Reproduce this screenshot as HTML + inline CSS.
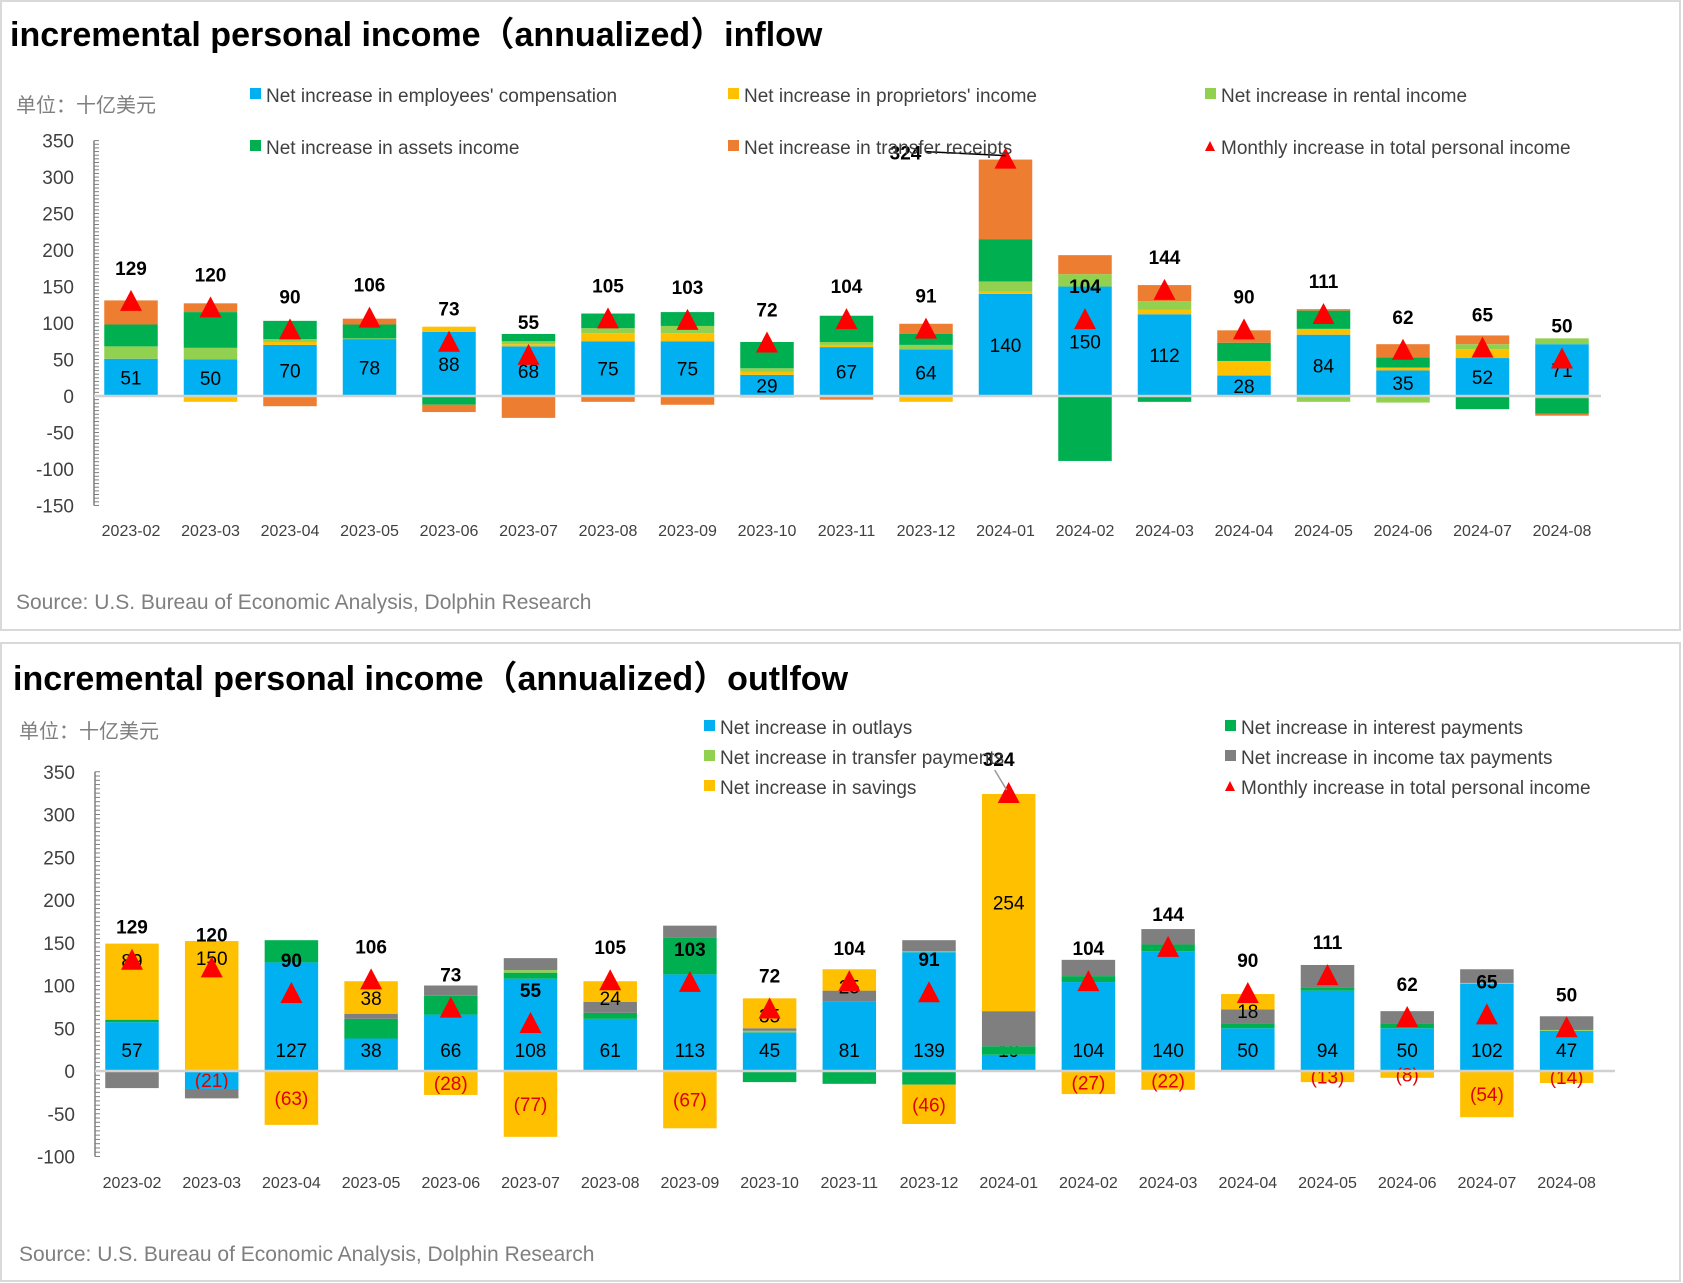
<!DOCTYPE html>
<html><head><meta charset="utf-8"><style>
html,body{margin:0;padding:0;background:#fff;}
svg{display:block;font-family:"Liberation Sans","Noto Sans CJK SC",sans-serif;}
</style></head><body>
<svg id="chart" width="1683" height="1283" viewBox="0 0 1683 1283" xmlns="http://www.w3.org/2000/svg">
<rect x="1" y="1" width="1679" height="629" fill="#fff" stroke="#d9d9d9" stroke-width="2"/>
<rect x="1" y="643" width="1679" height="638" fill="#fff" stroke="#d9d9d9" stroke-width="2"/>
<text x="10" y="46" font-size="34" font-weight="bold" fill="#000">incremental personal income（annualized）inflow</text>
<text x="16" y="112" font-size="20" fill="#7f7f7f">单位：十亿美元</text>
<text x="16" y="609" font-size="21" fill="#7f7f7f">Source: U.S. Bureau of Economic Analysis, Dolphin Research</text>
<text x="13" y="690" font-size="34" font-weight="bold" fill="#000">incremental personal income（annualized）outlfow</text>
<text x="19" y="738" font-size="20" fill="#7f7f7f">单位：十亿美元</text>
<text x="19" y="1261" font-size="21" fill="#7f7f7f">Source: U.S. Bureau of Economic Analysis, Dolphin Research</text>
<g id="top"></g><g id="bot"></g>
</svg>
<script>
const categories=["2023-02","2023-03","2023-04","2023-05","2023-06","2023-07","2023-08","2023-09","2023-10","2023-11","2023-12","2024-01","2024-02","2024-03","2024-04","2024-05","2024-06","2024-07","2024-08"];
// inflow series
const employees=[51,50,70,78,88,68,75,75,29,67,64,140,150,112,28,84,35,52,71];
const proprietors=[0,-8,4,0,7,3,11,11,4,3,-8,3,0,6,20,8,4,12,-3];
const rental=[17,16,4,1,0,4,7,10,5,4,6,14,17,12,0,-8,-9,7,8];
const assets=[30,49,25,19,-12,10,20,19,36,36,15,58,-89,-8,25,25,14,-18,-21];
const transfers=[33,12,-14,8,-10,-30,-8,-12,-2,-5,14,109,26,22,17,2,18,12,-3];
const totalIncome=[129,120,90,106,73,55,105,103,72,104,91,324,104,144,90,111,62,65,50];
// outflow series
const outlays=[57,-21,127,38,66,108,61,113,45,81,139,19,104,140,50,94,50,102,47];
const interest=[3,0,26,23,22,7,7,43,-13,-15,-16,10,7,8,5,4,5,0,0];
const transferPay=[0,2,0,0,0,3,0,0,2,0,1,0,0,0,0,0,0,1,1];
const incomeTax=[-20,-11,0,6,12,14,13,14,3,13,13,41,19,18,17,26,15,16,16];
const savings=[89,150,-63,38,-28,-77,24,-67,35,25,-46,254,-27,-22,18,-13,-8,-54,-14];
const topTicks=[-150,-100,-50,0,50,100,150,200,250,300,350];
const botTicks=[-100,-50,0,50,100,150,200,250,300,350];

const NS="http://www.w3.org/2000/svg";
function mk(parent,tag,attrs,txt){const e=document.createElementNS(NS,tag);for(const k in attrs)e.setAttribute(k,attrs[k]);if(txt!==undefined)e.textContent=txt;parent.appendChild(e);return e;}

function drawChart(gid,cfg){
  const g=document.getElementById(gid);
  const Y=v=>cfg.y0-v*cfg.ppu;
  const X=i=>cfg.x0+i*cfg.step;
  const ax=mk(g,'line',{x1:cfg.ax,x2:cfg.ax,y1:Y(cfg.ticks[cfg.ticks.length-1]),y2:Y(cfg.ticks[0]),stroke:'#7f7f7f','stroke-width':1.5});
  
  for(let v=cfg.ticks[0];v<=cfg.ticks[cfg.ticks.length-1];v+=5){
    const t=mk(g,'line',{x1:cfg.ax,x2:cfg.ax+5,y1:Y(v),y2:Y(v),stroke:'#7f7f7f','stroke-width':1});
    
  }
  cfg.ticks.forEach(v=>{
    const t=mk(g,'text',{x:cfg.ax-20,y:Y(v)+7,'font-size':19,'text-anchor':'end',fill:'#404040'},String(v));
    
  });
  categories.forEach((c,i)=>{
    let pos=0,neg=0;
    cfg.series.forEach(s=>{
      const v=s.data[i]; if(!v) return;
      let y1,y2;
      if(v>0){y1=Y(pos+v);y2=Y(pos);pos+=v;}else{y1=Y(neg);y2=Y(neg+v);neg+=v;}
      const r=mk(g,'rect',{x:X(i)-cfg.bw/2,y:y1,width:cfg.bw,height:Math.max(0,y2-y1),fill:s.color});
      
      if(s.label){
        const lt=v<0?'('+Math.abs(v)+')':String(v);
        const col=(v<0&&s.redNeg)?'#e00000':'#000';
        let ly=(y1+y2)/2+7;
        if(s.bottomLabel&&v>0) ly=Y(0)-14;
        if(s.topLabel&&v>0&&v<200) ly=y1+24;
        const t=mk(g,'text',{x:X(i),y:ly,'font-size':19,'text-anchor':'middle',fill:col},lt);
        
      }
    });
    const xl=mk(g,'text',{x:X(i),y:cfg.xly,'font-size':16,'text-anchor':'middle',fill:'#404040'},c);
    
  });
  const zl=mk(g,'line',{x1:cfg.ax,x2:cfg.zx2,y1:Y(0),y2:Y(0),stroke:'#d0d0d0','stroke-width':2.5});
  
  totalIncome.forEach((v,i)=>{
    const cx=X(i),cy=Y(v);
    const m=mk(g,'polygon',{points:`${cx},${cy-12} ${cx-11},${cy+9} ${cx+11},${cy+9}`,fill:'#ff0000'});
    
    let lx=cx,ly=cy-27;
    if(v>300){
      if(cfg.bigLeft){lx=cx-100;ly=cy;mk(g,'line',{x1:lx+20,y1:ly-8,x2:cx,y2:cy-4,stroke:'#000','stroke-width':1.5});}
      else{lx=cx-10;ly=cy-28;mk(g,'line',{x1:cx-14,y1:cy-24,x2:cx-2,y2:cy-4,stroke:'#999','stroke-width':1.5});}
    }
    const t=mk(g,'text',{x:lx,y:ly,'font-size':19,'font-weight':'bold','text-anchor':'middle',fill:'#000'},String(v));
    
  });
  cfg.legend.forEach(L=>{
    if(L.tri) mk(g,'polygon',{points:`${L.x+5},${L.y-13} ${L.x},${L.y-3} ${L.x+10},${L.y-3}`,fill:'#ff0000'});
    else mk(g,'rect',{x:L.x,y:L.y-14,width:11,height:11,fill:L.color});
    const t=mk(g,'text',{x:L.x+16,y:L.y,'font-size':19,fill:'#404040'},L.text);
    
  });
}
drawChart('top',{y0:396,ppu:0.7297,x0:131,step:79.5,bw:53.5,ax:94,zx2:1601,xly:536,ticks:topTicks,bigLeft:true,
  series:[{name:'employees',data:employees,color:'#00b0f0',label:true},{name:'proprietors',data:proprietors,color:'#ffc000'},{name:'rental',data:rental,color:'#92d050'},{name:'assets',data:assets,color:'#00b050'},{name:'transfer-receipts',data:transfers,color:'#ed7d31'}],
  legend:[{x:250,y:102,color:'#00b0f0',text:"Net increase in employees' compensation"},{x:728,y:102,color:'#ffc000',text:"Net increase in proprietors' income"},{x:1205,y:102,color:'#92d050',text:"Net increase in rental income"},{x:250,y:154,color:'#00b050',text:"Net increase in assets income"},{x:728,y:154,color:'#ed7d31',text:"Net increase in transfer receipts"},{x:1205,y:154,tri:true,text:"Monthly increase in total personal income"}]});
drawChart('bot',{y0:1071,ppu:0.855,x0:132,step:79.7,bw:53.5,ax:95,zx2:1615,xly:1188,ticks:botTicks,bigLeft:false,
  series:[{name:'outlays',data:outlays,color:'#00b0f0',label:true,redNeg:true,bottomLabel:true},{name:'interest',data:interest,color:'#00b050'},{name:'transfer-payments',data:transferPay,color:'#92d050'},{name:'income-tax',data:incomeTax,color:'#7f7f7f'},{name:'savings',data:savings,color:'#ffc000',label:true,redNeg:true,topLabel:true}],
  legend:[{x:704,y:734,color:'#00b0f0',text:"Net increase in outlays"},{x:704,y:764,color:'#92d050',text:"Net increase in transfer payments"},{x:704,y:794,color:'#ffc000',text:"Net increase in savings"},{x:1225,y:734,color:'#00b050',text:"Net increase in interest payments"},{x:1225,y:764,color:'#7f7f7f',text:"Net increase in income tax payments"},{x:1225,y:794,tri:true,text:"Monthly increase in total personal income"}]});
</script>
</body></html>
